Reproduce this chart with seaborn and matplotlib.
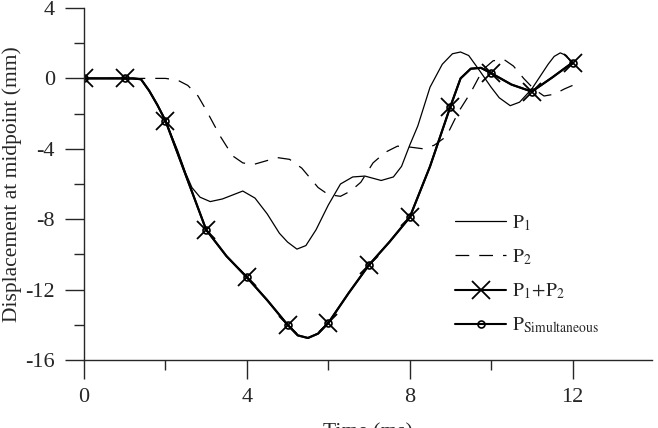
import numpy as np
import seaborn as sns
from matplotlib import pyplot as plt
from matplotlib.ticker import FixedLocator

# P1 alone (thin solid)
t_p1 = [0, 1.0, 1.4, 1.6, 1.8, 2.0, 2.3, 2.5, 2.65, 2.85, 3.1, 3.4, 3.9, 4.2, 4.5, 4.8, 5.0,
        5.23, 5.45, 5.7, 6.0, 6.3, 6.6, 6.9, 7.3, 7.6, 7.8, 8.0, 8.2, 8.5, 8.8, 9.05,
        9.25, 9.45, 9.7, 10.0, 10.2, 10.47, 10.7, 11.0, 11.2, 11.4, 11.55, 11.7, 11.85, 12.0]
p1 = [0, 0, -0.05, -0.7, -1.5, -2.4, -4.1, -5.4, -6.2, -6.75, -7.0, -6.85, -6.4, -6.8, -7.7, -8.8, -9.3,
      -9.7, -9.5, -8.6, -7.2, -6.0, -5.6, -5.55, -5.8, -5.6, -5.0, -3.8, -2.7, -0.5, 0.8, 1.4,
      1.5, 1.3, 0.5, -0.5, -1.1, -1.55, -1.35, -0.6, 0.1, 0.8, 1.25, 1.45, 1.3, 0.8]

# P2 alone (dashed)
t_p2 = [0, 2.0, 2.3, 2.55, 2.8, 3.0, 3.35, 3.65, 3.9, 4.15, 4.45, 4.75, 5.05, 5.35, 5.75,
        6.0, 6.3, 6.55, 6.8, 7.1, 7.4, 7.7, 8.0, 8.33, 8.6, 8.9, 9.2, 9.5, 9.8, 10.05,
        10.3, 10.55, 10.8, 11.05, 11.3, 11.55, 11.8, 12.0]
p2 = [0, 0, -0.1, -0.4, -1.0, -1.8, -3.3, -4.4, -4.8, -4.9, -4.7, -4.5, -4.6, -5.1, -6.2,
      -6.6, -6.7, -6.4, -5.9, -4.8, -4.2, -3.85, -3.9, -4.0, -3.8, -3.3, -1.9, -0.8, 0.5, 1.0,
      1.1, 0.7, 0.0, -0.6, -1.0, -0.9, -0.6, -0.4]

# P1+P2 superposition and simultaneous loading (the two curves coincide)
t_sum = [0, 1.0, 1.2, 1.4, 1.6, 1.8, 2.0, 2.5, 3.0, 3.5, 4.0, 4.5, 5.0, 5.25, 5.5, 5.75,
         6.0, 6.5, 7.0, 7.5, 8.0, 8.5, 9.0, 9.25, 9.5, 9.75, 10.0, 10.5, 11.0, 11.5, 12.0]
p_sum = [0, 0, 0, -0.05, -0.7, -1.5, -2.4, -5.5, -8.6, -10.1, -11.3, -12.6, -14.0, -14.6, -14.75, -14.5,
         -13.9, -12.2, -10.6, -9.3, -7.9, -5.0, -1.6, 0.0, 0.55, 0.6, 0.3, -0.35, -0.75, 0.05, 0.9]
p_sim = list(p_sum)

# markers only sit on whole milliseconds
mark_idx = [i for i, t in enumerate(t_sum) if float(t).is_integer()]

sns.set_style('ticks')
plt.rcParams['font.family'] = ['Liberation Serif', 'DejaVu Serif']
plt.rcParams['mathtext.fontset'] = 'stix'
plt.rcParams['axes.unicode_minus'] = False

fig = plt.figure(figsize=(6.58, 4.28), dpi=100)
ax = fig.add_axes([0.1277, 0.1589, 0.863, 0.8224])

sns.lineplot(x=t_p1, y=p1, ax=ax, color='black', lw=0.9, estimator=None,
             label=r'$\mathrm{P}_1$')
sns.lineplot(x=t_p2, y=p2, ax=ax, color='black', lw=0.9, estimator=None,
             linestyle=(0, (11, 8)), label=r'$\mathrm{P}_2$')
sns.lineplot(x=t_sum, y=p_sum, ax=ax, color='black', lw=1.5, estimator=None,
             marker='x', markersize=13, markeredgewidth=1.3, markeredgecolor='black',
             markevery=mark_idx, label=r'$\mathrm{P}_1\!+\!\mathrm{P}_2$')
sns.lineplot(x=t_sum, y=p_sim, ax=ax, color='black', lw=1.5, estimator=None,
             marker='o', markersize=5, markeredgewidth=1.2, markeredgecolor='black',
             markerfacecolor='none', markevery=mark_idx,
             label=r'$\mathrm{P}_{\mathrm{Simultaneous}}$')

ax.set_xlim(0, 13.95)
ax.set_ylim(-16, 4)
ax.set_xticks([0, 4, 8, 12])
ax.set_yticks([-16, -12, -8, -4, 0, 4])
ax.xaxis.set_minor_locator(FixedLocator([2, 6, 10]))
ax.yaxis.set_minor_locator(FixedLocator([-14, -10, -6, -2, 2]))
ax.tick_params(which='major', direction='out', length=14, width=1.0, labelsize=16, pad=6)
ax.tick_params(axis='y', which='major', pad=7)
ax.tick_params(which='minor', direction='out', length=7, width=1.0)
sns.despine(ax=ax)
for s in ['left', 'bottom']:
    ax.spines[s].set_linewidth(1.0)

ax.set_xlabel('Time (ms)', fontsize=15.5, labelpad=12)
ax.set_ylabel('Displacement at midpoint (mm)', fontsize=15.5, labelpad=2)

ax.legend(loc='upper left', bbox_to_anchor=(0.64, 0.44), frameon=False, fontsize=14,
          handlelength=2.6, handletextpad=0.3, labelspacing=0.75, borderaxespad=0)

fig.savefig('out.png', dpi=100)
